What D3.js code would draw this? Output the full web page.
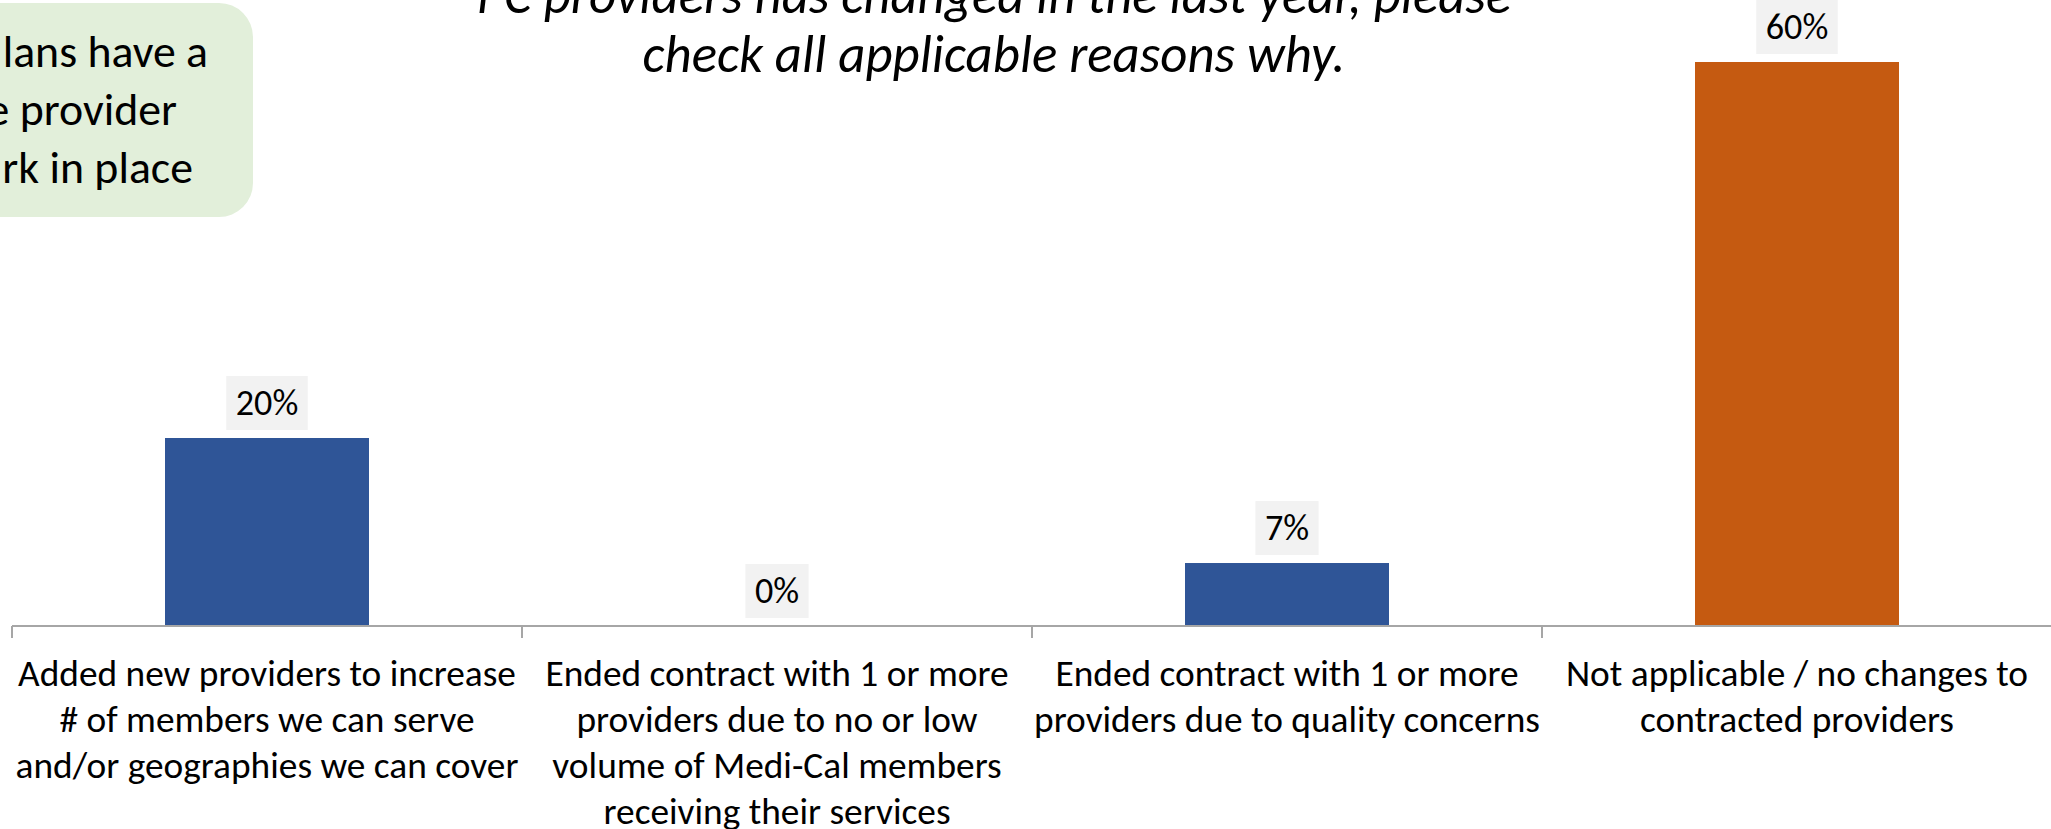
<!DOCTYPE html>
<html>
<head>
<meta charset="utf-8">
<script src="https://cdn.jsdelivr.net/npm/d3@7"></script>
<style>
  html, body { margin: 0; padding: 0; background: #ffffff; overflow: hidden; }
  svg { display: block; }
</style>
</head>
<body>
<svg id="chart" width="2051" height="829"></svg>
<script>
// ---------- data ----------
const categories = [
  "Added new providers to increase # of members we can serve and/or geographies we can cover",
  "Ended contract with 1 or more providers due to no or low volume of Medi-Cal members receiving their services",
  "Ended contract with 1 or more providers due to quality concerns",
  "Not applicable / no changes to contracted providers"
];
const categoryLines = [
  ["Added new providers to increase", "# of members we can serve", "and/or geographies we can cover"],
  ["Ended contract with 1 or more", "providers due to no or low", "volume of Medi-Cal members", "receiving their services"],
  ["Ended contract with 1 or more", "providers due to quality concerns"],
  ["Not applicable / no changes to", "contracted providers"]
];
const values = [0.20, 0.00, 0.067, 0.60];
const valueLabels = ["20%", "0%", "7%", "60%"];
const barColors = ["#2f5597", "#2f5597", "#2f5597", "#c55a11"];
const titleLines = [
  "PC providers has changed in the last year, please",
  "check all applicable reasons why."
];
const calloutLines = ["lans have a", "e provider", "rk in place"];

// ---------- setup ----------
const W = 2051, H = 829;
const FONT = "Calibri, Carlito, Lato, 'Open Sans', sans-serif";
const svg = d3.select("#chart");

function measure(text, size, italic) {
  const t = svg.append("text")
    .attr("font-family", FONT)
    .attr("font-size", size)
    .attr("font-style", italic ? "italic" : "normal")
    .text(text);
  const w = t.node().getComputedTextLength();
  t.remove();
  return w;
}
function fitSize(text, target, italic) {
  return 40 * target / measure(text, 40, italic);
}

const catFont = fitSize(categoryLines[0][0], 498, false);
const labelFont = catFont * 36 / 37.2;
const titleFont = fitSize(titleLines[1], 703, true);
const calloutFont = catFont * 45.6 / 37.2;

const axisY = 626;
const x = d3.scaleBand().domain(categories).range([12, 2052]).padding(0);
const y = d3.scaleLinear().domain([0, 0.7]).range([axisY, axisY - 0.7 * 940]);
const barW = x.bandwidth() * 0.4;

// ---------- callout box (top-left, partially cropped) ----------
const callout = svg.append("g");
callout.append("rect")
  .attr("x", -300).attr("y", 3)
  .attr("width", 553).attr("height", 214)
  .attr("rx", 34).attr("ry", 34)
  .attr("fill", "#e2efda");
const calloutEnds = [208, 177, 193];
callout.selectAll("text").data(calloutLines).join("text")
  .attr("x", (d, i) => calloutEnds[i])
  .attr("y", (d, i) => 67 + i * 58)
  .attr("text-anchor", "end")
  .attr("font-family", FONT)
  .attr("font-size", calloutFont)
  .attr("fill", "#000")
  .text(d => d);

// ---------- title ----------
svg.append("g").selectAll("text").data(titleLines).join("text")
  .attr("x", 994)
  .attr("y", (d, i) => 13 + i * 59)
  .attr("text-anchor", "middle")
  .attr("font-family", FONT)
  .attr("font-style", "italic")
  .attr("font-size", titleFont)
  .attr("fill", "#000")
  .text(d => d);

// ---------- bars ----------
svg.append("g").selectAll("rect").data(categories).join("rect")
  .attr("x", d => x(d) + (x.bandwidth() - barW) / 2)
  .attr("width", barW)
  .attr("y", (d, i) => y(values[i]))
  .attr("height", (d, i) => y(0) - y(values[i]))
  .attr("fill", (d, i) => barColors[i]);

// ---------- axis ----------
const axis = d3.axisBottom(x).tickSize(0).tickSizeOuter(0).tickFormat("");
const axisG = svg.append("g").attr("transform", `translate(0,${axisY})`).call(axis);
axisG.select(".domain").attr("stroke", "#a6a6a6").attr("stroke-width", 2)
  .attr("d", `M${x.range()[0]},0H${W}`);
// category boundary tick marks
axisG.selectAll(".bound").data(categories).join("line")
  .attr("class", "bound")
  .attr("x1", d => x(d)).attr("x2", d => x(d))
  .attr("y1", 0).attr("y2", 12)
  .attr("stroke", "#a6a6a6").attr("stroke-width", 2);
// category labels (multi-line)
axisG.selectAll(".tick text").each(function(d, i) {
  const t = d3.select(this)
    .attr("y", 0).attr("dy", null)
    .attr("font-family", FONT)
    .attr("font-size", catFont)
    .attr("fill", "#000")
    .attr("text-anchor", "middle");
  t.selectAll("tspan").data(categoryLines[i]).join("tspan")
    .attr("x", 0)
    .attr("y", (l, j) => 60 + j * 46)
    .text(l => l);
});

// ---------- data labels ----------
const lbl = svg.append("g").selectAll("g").data(categories).join("g")
  .attr("transform", (d, i) => `translate(${x(d) + x.bandwidth() / 2},${y(values[i]) - 8 - 54})`);
lbl.each(function(d, i) {
  const g = d3.select(this);
  const tw = measure(valueLabels[i], labelFont, false);
  g.append("rect")
    .attr("x", -tw / 2 - 9.5).attr("y", 0)
    .attr("width", tw + 19).attr("height", 54)
    .attr("fill", "#f2f2f2");
  g.append("text")
    .attr("x", 0).attr("y", 27 + labelFont * 0.33)
    .attr("text-anchor", "middle")
    .attr("font-family", FONT)
    .attr("font-size", labelFont)
    .attr("fill", "#000")
    .text(valueLabels[i]);
});
</script>
</body>
</html>
